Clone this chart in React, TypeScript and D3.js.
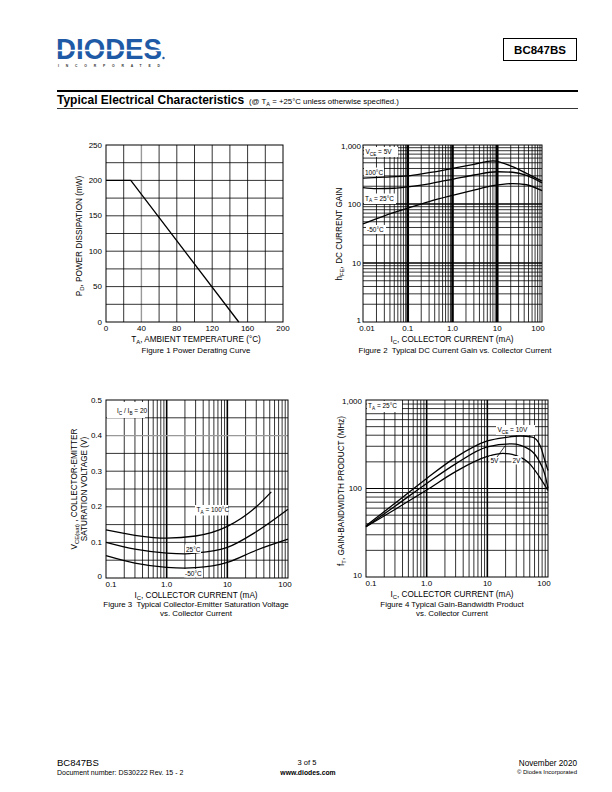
import React from 'react';
import * as d3 from 'd3';

const FONT = '"Liberation Sans", Arial, Helvetica, sans-serif';

// Figure 1 - power derating
const derateTemp = [0, 28, 150];
const deratePower = [200, 200, 0];
const fig1XTicks = [0, 40, 80, 120, 160, 200];
const fig1YTicks = [0, 50, 100, 150, 200, 250];

// Figure 2 - hFE vs Ic (VCE = 5V)
const hfeIc100 = [0.01, 0.03, 0.1, 0.3, 0.5, 1, 3, 8, 22, 45, 100];
const hfe100 = [275, 285, 300, 340, 360, 400, 470, 540, 430, 330, 245];
const hfeIc25 = [0.01, 0.02, 0.05, 0.1, 0.3, 0.5, 1, 3, 10, 22, 45, 100];
const hfe25 = [190, 182, 185, 195, 220, 238, 262, 310, 352, 345, 305, 228];
const hfeIcM50 = [0.01, 0.03, 0.1, 0.3, 1, 3, 8, 22, 45, 100];
const hfeM50 = [46, 63, 85, 110, 140, 172, 204, 222, 212, 168];
const fig2XTicks = [0.01, 0.1, 1, 10, 100];
const fig2XLabels = ['0.01', '0.1', '1.0', '10', '100'];
const fig2YTicks = [1, 10, 100, 1000];
const fig2YLabels = ['1', '10', '100', '1,000'];

// Figure 3 - VCE(sat) vs Ic (IC/IB = 20)
const satIc100 = [0.1, 0.3, 1, 3, 10, 30, 53];
const sat100 = [0.135, 0.12, 0.112, 0.118, 0.145, 0.2, 0.242];
const satIc25 = [0.1, 0.3, 1, 2, 3, 10, 30, 100];
const sat25 = [0.1, 0.081, 0.07, 0.068, 0.07, 0.086, 0.13, 0.193];
const satIcM50 = [0.1, 0.3, 1, 2, 3, 10, 30, 100];
const satM50 = [0.063, 0.042, 0.03, 0.028, 0.029, 0.044, 0.078, 0.109];
const fig3XTicks = [0.1, 1, 10, 100];
const fig3XLabels = ['0.1', '1.0', '10', '100'];
const fig3YTicks = [0, 0.1, 0.2, 0.3, 0.4, 0.5];
const fig3YLabels = ['0', '0.1', '0.2', '0.3', '0.4', '0.5'];

// Figure 4 - fT vs Ic (TA = 25C)
const ftIc10 = [0.1, 0.3, 1, 3, 10, 20, 35, 55, 75, 90, 100];
const ft10 = [38, 68, 130, 225, 345, 378, 392, 380, 300, 200, 160];
const ftIc5 = [0.1, 0.3, 1, 3, 10, 25, 50, 70, 90, 100];
const ft5 = [37, 63, 114, 190, 295, 320, 275, 210, 140, 100];
const ftIc2 = [0.1, 0.3, 1, 3, 10, 18, 30, 50, 70, 100];
const ft2 = [37, 58, 96, 155, 230, 250, 235, 190, 140, 95];
const fig4YTicks = [10, 100, 1000];
const fig4YLabels = ['10', '100', '1,000'];

const TICK = 8;
const TITLE = 8.2;
const CAP = 7.9;
const NOTE = 6.5;

type Pt = [number, number];
const zip = (xs: number[], ys: number[]): Pt[] => xs.map((v, i) => [v, ys[i]]);
const isDec = (v: number) => Math.abs(Math.log10(v) - Math.round(Math.log10(v))) < 1e-6;

type Part = [string, boolean?];
function Rich({ x, y, parts, size = 7, anchor = 'start', weight = 'normal', rotate = false }:
  { x: number; y: number; parts: Part[]; size?: number; anchor?: string; weight?: string; rotate?: boolean }) {
  let sub = false;
  const spans = parts.map(([t, s], i) => {
    let dy = 0;
    if (s && !sub) dy = size * 0.3;
    if (!s && sub) dy = -size * 0.3;
    sub = !!s;
    return (
      <tspan key={i} dy={dy} fontSize={s ? size * 0.72 : size}>{t}</tspan>
    );
  });
  return (
    <text x={x} y={y} fontFamily={FONT} fontSize={size} fontWeight={weight} textAnchor={anchor}
      transform={rotate ? `rotate(-90 ${x} ${y})` : undefined} xmlSpace="preserve">
      {spans}
    </text>
  );
}

function Boxed({ x, y, w, h, children }: { x: number; y: number; w: number; h: number; children: React.ReactNode }) {
  return (
    <g>
      <rect x={x} y={y} width={w} height={h} fill="#fff" />
      {children}
    </g>
  );
}

function Fig1() {
  const x = d3.scaleLinear().domain([0, 200]).range([106, 283]);
  const y = d3.scaleLinear().domain([0, 250]).range([322, 145]);
  const line = d3.line<Pt>().x((d) => x(d[0])).y((d) => y(d[1]));
  return (
    <g>
      {d3.range(20, 200, 20).map((v) => (
        <line key={'gx' + v} x1={x(v)} x2={x(v)} y1={y(0)} y2={y(250)} stroke={v === 40 ? '#999' : '#000'} strokeWidth={v === 40 ? 1.4 : 0.8} />
      ))}
      {d3.range(25, 250, 25).map((v) => (
        <line key={'gy' + v} x1={x(0)} x2={x(200)} y1={y(v)} y2={y(v)} stroke="#000" strokeWidth={0.8} />
      ))}
      <rect x={x(0)} y={y(250)} width={x(200) - x(0)} height={y(0) - y(250)} fill="none" stroke="#000" strokeWidth={1} />
      <path d={line(zip(derateTemp, deratePower)) || ''} fill="none" stroke="#000" strokeWidth={1.3} />
      {fig1XTicks.map((v) => (
        <text key={'tx' + v} x={x(v)} y={331} fontFamily={FONT} fontSize={TICK} textAnchor="middle">{v}</text>
      ))}
      {fig1YTicks.map((v) => (
        <text key={'ty' + v} x={102} y={y(v) + 2.5} fontFamily={FONT} fontSize={TICK} textAnchor="end">{v}</text>
      ))}
      <Rich x={196} y={342} anchor="middle" size={TITLE} parts={[['T'], ['A', true], [', AMBIENT TEMPERATURE (°C)']]} />
      <text x={196} y={353} fontFamily={FONT} fontSize={CAP} textAnchor="middle">Figure 1 Power Derating Curve</text>
      <Rich x={82} y={236} anchor="middle" size={TITLE} rotate parts={[['P'], ['D', true], [', POWER DISSIPATION (mW)']]} />
    </g>
  );
}

function Fig2() {
  const x = d3.scaleLog().domain([0.01, 100]).range([363, 542]);
  const y = d3.scaleLog().domain([1, 1000]).range([322, 145]);
  const line = d3.line<Pt>().x((d) => x(d[0])).y((d) => y(d[1])).curve(d3.curveMonotoneX);
  const gx = x.ticks().filter((v) => x(v) > 364 && x(v) < 541);
  const gy = y.ticks().filter((v) => y(v) > 146 && y(v) < 321);
  return (
    <g>
      {gx.map((v, i) => (
        <line key={'gx' + i} x1={x(v)} x2={x(v)} y1={145} y2={322} stroke="#000" strokeWidth={isDec(v) ? 2.6 : 0.8} />
      ))}
      {gy.map((v, i) => (
        <line key={'gy' + i} x1={363} x2={542} y1={y(v)} y2={y(v)} stroke="#000" strokeWidth={isDec(v) ? 1.4 : 0.8} />
      ))}
      <rect x={363} y={145} width={179} height={177} fill="none" stroke="#000" strokeWidth={1} />
      <path d={line(zip(hfeIc100, hfe100)) || ''} fill="none" stroke="#000" strokeWidth={1.3} />
      <path d={line(zip(hfeIc25, hfe25)) || ''} fill="none" stroke="#000" strokeWidth={1.3} />
      <path d={line(zip(hfeIcM50, hfeM50)) || ''} fill="none" stroke="#000" strokeWidth={1.3} />
      <Boxed x={364} y={147} w={34} h={10}>
        <Rich x={365.5} y={154} size={NOTE} parts={[['V'], ['CE', true], [' = 5V']]} />
      </Boxed>
      <Boxed x={364} y={167.5} w={20} h={8.5}>
        <text x={365} y={174.5} fontFamily={FONT} fontSize={NOTE}>100°C</text>
      </Boxed>
      <Boxed x={364} y={193.5} w={32} h={10.5}>
        <Rich x={365} y={200.5} size={NOTE} parts={[['T'], ['A', true], [' = 25°C']]} />
      </Boxed>
      <Boxed x={366} y={225} w={20} h={9}>
        <text x={367} y={232} fontFamily={FONT} fontSize={NOTE}>-50°C</text>
      </Boxed>
      {fig2XTicks.map((v, i) => (
        <text key={'tx' + i} x={x(v) + (i === 0 ? 4 : i === fig2XTicks.length - 1 ? -4 : 0)} y={331} fontFamily={FONT} fontSize={TICK} textAnchor="middle">{fig2XLabels[i]}</text>
      ))}
      {fig2YTicks.map((v, i) => (
        <text key={'ty' + i} x={361} y={y(v) + 2.5 + (i === 0 ? -2 : i === fig2YTicks.length - 1 ? 1 : 0)} fontFamily={FONT} fontSize={TICK} textAnchor="end">{fig2YLabels[i]}</text>
      ))}
      <Rich x={452} y={342} anchor="middle" size={TITLE} parts={[['I'], ['C', true], [', COLLECTOR CURRENT (mA)']]} />
      <text x={455} y={353} fontFamily={FONT} fontSize={CAP} textAnchor="middle" xmlSpace="preserve">Figure 2  Typical DC Current Gain vs. Collector Current</text>
      <Rich x={342} y={234} anchor="middle" size={TITLE} rotate parts={[['h'], ['FE', true], [', DC CURRENT GAIN']]} />
    </g>
  );
}

function Fig3() {
  const x = d3.scaleLog().domain([0.1, 100]).range([106, 288]);
  const y = d3.scaleLinear().domain([0, 0.5]).range([578, 400]);
  const line = d3.line<Pt>().x((d) => x(d[0])).y((d) => y(d[1])).curve(d3.curveMonotoneX);
  const gx = x.ticks().filter((v) => x(v) > 107 && x(v) < 287);
  const gy = d3.range(1, 10).map((k) => k * 0.05);
  return (
    <g>
      {gx.map((v, i) => (
        <line key={'gx' + i} x1={x(v)} x2={x(v)} y1={400} y2={578} stroke="#000" strokeWidth={isDec(v) ? 1.6 : 0.8} />
      ))}
      {gy.map((v, i) => (
        <line key={'gy' + i} x1={106} x2={288} y1={y(v)} y2={y(v)} stroke={i === 7 ? '#999' : '#000'} strokeWidth={i === 7 ? 1.3 : 0.8} />
      ))}
      <rect x={106} y={400} width={182} height={178} fill="none" stroke="#000" strokeWidth={1} />
      <path d={line(zip(satIc100, sat100)) || ''} fill="none" stroke="#000" strokeWidth={1.3} />
      <path d={line(zip(satIc25, sat25)) || ''} fill="none" stroke="#000" strokeWidth={1.3} />
      <path d={line(zip(satIcM50, satM50)) || ''} fill="none" stroke="#000" strokeWidth={1.3} />
      <Boxed x={107} y={402} w={38} h={16}>
        <Rich x={117} y={413} size={NOTE} parts={[['I'], ['C', true], [' / I'], ['B', true], [' = 20']]} />
      </Boxed>
      <Boxed x={195} y={505} w={33} h={10.5}>
        <Rich x={196.5} y={512} size={NOTE} parts={[['T'], ['A', true], [' = 100°C']]} />
      </Boxed>
      <Boxed x={185} y={544.5} w={16} h={8.5}>
        <text x={186} y={551.5} fontFamily={FONT} fontSize={NOTE}>25°C</text>
      </Boxed>
      <Boxed x={184} y={569} w={19} h={8.5}>
        <text x={185} y={575.5} fontFamily={FONT} fontSize={NOTE}>-50°C</text>
      </Boxed>
      {fig3XTicks.map((v, i) => (
        <text key={'tx' + i} x={x(v) + (i === 0 ? 5 : i === fig3XTicks.length - 1 ? -3 : 0)} y={587} fontFamily={FONT} fontSize={TICK} textAnchor="middle">{fig3XLabels[i]}</text>
      ))}
      {fig3YTicks.map((v, i) => (
        <text key={'ty' + i} x={102} y={y(v) + 2.5 + (i === 0 ? -2 : 0)} fontFamily={FONT} fontSize={TICK} textAnchor="end">{fig3YLabels[i]}</text>
      ))}
      <Rich x={196} y={598} anchor="middle" size={TITLE} parts={[['I'], ['C', true], [', COLLECTOR CURRENT (mA)']]} />
      <text x={196} y={607} fontFamily={FONT} fontSize={CAP} textAnchor="middle" xmlSpace="preserve">Figure 3  Typical Collector-Emitter Saturation Voltage</text>
      <text x={196} y={616} fontFamily={FONT} fontSize={CAP} textAnchor="middle">vs. Collector Current</text>
      <Rich x={77} y={489} anchor="middle" size={TITLE} rotate parts={[['V'], ['CE(sat)', true], [' , COLLECTOR-EMITTER']]} />
      <Rich x={87} y={489} anchor="middle" size={TITLE} rotate parts={[['SATURATION VOLTAGE (V)']]} />
    </g>
  );
}

function Fig4() {
  const x = d3.scaleLog().domain([0.1, 100]).range([366, 548]);
  const y = d3.scaleLog().domain([10, 1000]).range([577, 400]);
  const line = d3.line<Pt>().x((d) => x(d[0])).y((d) => y(d[1])).curve(d3.curveMonotoneX);
  const gx = x.ticks().filter((v) => x(v) > 367 && x(v) < 547);
  const gy = y.ticks().filter((v) => y(v) > 401 && y(v) < 576);
  return (
    <g>
      {gx.map((v, i) => (
        <line key={'gx' + i} x1={x(v)} x2={x(v)} y1={400} y2={577} stroke="#000" strokeWidth={isDec(v) ? 1.6 : 0.8} />
      ))}
      {gy.map((v, i) => (
        <line key={'gy' + i} x1={366} x2={548} y1={y(v)} y2={y(v)} stroke="#000" strokeWidth={isDec(v) ? 1.2 : 0.8} />
      ))}
      <rect x={366} y={400} width={182} height={177} fill="none" stroke="#000" strokeWidth={1} />
      <path d={line(zip(ftIc10, ft10)) || ''} fill="none" stroke="#000" strokeWidth={1.3} />
      <path d={line(zip(ftIc5, ft5)) || ''} fill="none" stroke="#000" strokeWidth={1.3} />
      <path d={line(zip(ftIc2, ft2)) || ''} fill="none" stroke="#000" strokeWidth={1.3} />
      <Boxed x={367} y={401} w={35} h={11}>
        <Rich x={368} y={408} size={NOTE} parts={[['T'], ['A', true], [' = 25°C']]} />
      </Boxed>
      <Boxed x={496} y={425} w={39} h={10}>
        <Rich x={497.5} y={432} size={NOTE} parts={[['V'], ['CE', true], [' = 10V']]} />
      </Boxed>
      <Boxed x={489.5} y={456} w={10} h={8.5}>
        <text x={490.5} y={462.5} fontFamily={FONT} fontSize={NOTE}>5V</text>
      </Boxed>
      <line x1={497} y1={457} x2={505} y2={446} stroke="#000" strokeWidth={0.8} />
      <Boxed x={511.5} y={456} w={10} h={8.5}>
        <text x={512.5} y={462.5} fontFamily={FONT} fontSize={NOTE}>2V</text>
      </Boxed>
      {fig3XTicks.map((v, i) => (
        <text key={'tx' + i} x={x(v) + (i === 0 ? 5 : i === fig3XTicks.length - 1 ? -4 : 0)} y={586} fontFamily={FONT} fontSize={TICK} textAnchor="middle">{fig3XLabels[i]}</text>
      ))}
      {fig4YTicks.map((v, i) => (
        <text key={'ty' + i} x={362} y={y(v) + 2.5 + (i === 0 ? -2 : i === fig4YTicks.length - 1 ? 1 : 0)} fontFamily={FONT} fontSize={TICK} textAnchor="end">{fig4YLabels[i]}</text>
      ))}
      <Rich x={452} y={597} anchor="middle" size={TITLE} parts={[['I'], ['C', true], [', COLLECTOR CURRENT (mA)']]} />
      <text x={452} y={607} fontFamily={FONT} fontSize={CAP} textAnchor="middle">Figure 4 Typical Gain-Bandwidth Product</text>
      <text x={452} y={616} fontFamily={FONT} fontSize={CAP} textAnchor="middle">vs. Collector Current</text>
      <Rich x={344} y={491} anchor="middle" size={TITLE} rotate parts={[['f'], ['T', true], [', GAIN-BANDWIDTH PRODUCT (MHz)']]} />
    </g>
  );
}

function Header() {
  return (
    <g>
      <text x={56} y={59} fontFamily={FONT} fontSize={29} fontWeight="bold" fill="#1f5aa6" textLength={106} lengthAdjust="spacingAndGlyphs">DIODES</text>
      <line x1={56} x2={162} y1={50.5} y2={50.5} stroke="#fff" strokeWidth={1.3} />
      <circle cx={163.5} cy={58} r={1.2} fill="#1f5aa6" />
      <text x={58} y={66.5} fontFamily={FONT} fontSize={3.4} fontWeight="bold" fill="#333" textLength={102} lengthAdjust="spacing">INCORPORATED</text>
      <rect x={503.5} y={38.5} width={73} height={22} fill="none" stroke="#000" strokeWidth={1} />
      <text x={540} y={54} fontFamily={FONT} fontSize={11.5} fontWeight="bold" textAnchor="middle">BC847BS</text>
      <line x1={57} x2={578} y1={91} y2={91} stroke="#000" strokeWidth={2} />
      <text x={57} y={104} fontFamily={FONT} fontSize={12} fontWeight="bold">Typical Electrical Characteristics</text>
      <Rich x={249} y={103.5} size={7.8} parts={[['(@ T'], ['A', true], [' = +25°C unless otherwise specified.)']]} />
      <line x1={57} x2={578} y1={108.5} y2={108.5} stroke="#000" strokeWidth={0.8} />
    </g>
  );
}

function Footer() {
  return (
    <g fontFamily={FONT}>
      <text x={57} y={766} fontSize={9.5}>BC847BS</text>
      <text x={57} y={775} fontSize={7}>Document number: DS30222 Rev. 15 - 2</text>
      <text x={307} y={765} fontSize={7.5} textAnchor="middle">3 of 5</text>
      <text x={308} y={775} fontSize={6.8} fontWeight="bold" textAnchor="middle">www.diodes.com</text>
      <text x={577} y={766} fontSize={8.2} textAnchor="end">November 2020</text>
      <text x={577} y={774} fontSize={6} textAnchor="end">© Diodes Incorporated</text>
    </g>
  );
}

export default function App() {
  return (
    <svg width={612} height={792} viewBox="0 0 612 792" style={{ position: 'absolute', left: 0, top: 0, background: '#fff' }}>
      <rect width={612} height={792} fill="#fff" />
      <Header />
      <Fig1 />
      <Fig2 />
      <Fig3 />
      <Fig4 />
      <Footer />
    </svg>
  );
}
